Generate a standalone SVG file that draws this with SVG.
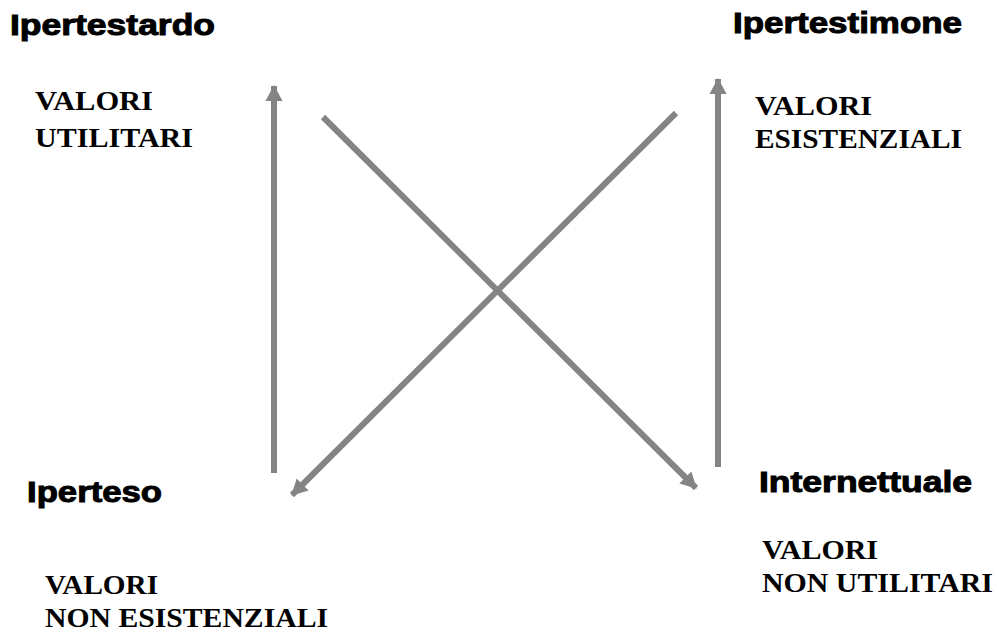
<svg xmlns="http://www.w3.org/2000/svg" width="997" height="632" viewBox="0 0 997 632">
<style>
.title{font-family:"Liberation Sans",Arial,sans-serif;font-weight:900;font-size:30px;fill:#000;stroke:#000;stroke-width:1px}
.val{font-family:"Liberation Serif","Times New Roman",serif;font-weight:bold;font-size:27px;fill:#000}
.arr{stroke:#848484;stroke-width:6;fill:none;marker-end:url(#ah)}
</style>
<defs>
<marker id="ah" markerUnits="userSpaceOnUse" markerWidth="20" markerHeight="20" viewBox="0 0 20 20" refX="16" refY="10" orient="auto">
<path d="M1,1.5 L17,10 L1,18.5 Z" fill="#848484"/>
</marker>
</defs>
<rect width="997" height="632" fill="#fff"/>
<g id="connectors">
<line class="arr" x1="274" y1="473" x2="274" y2="86"/>
<line class="arr" x1="718" y1="467" x2="718" y2="79"/>
<line class="arr" x1="323" y1="117" x2="696" y2="488"/>
<line class="arr" x1="676" y1="113" x2="292" y2="495"/>
</g>
<g id="ipertestardo">
<text class="title" x="10" y="35" textLength="205" lengthAdjust="spacingAndGlyphs">Ipertestardo</text>
<text class="val" x="35" y="110" textLength="118" lengthAdjust="spacingAndGlyphs">VALORI</text>
<text class="val" x="35" y="147" textLength="158" lengthAdjust="spacingAndGlyphs">UTILITARI</text>
</g>
<g id="ipertestimone">
<text class="title" x="733" y="33" textLength="229" lengthAdjust="spacingAndGlyphs">Ipertestimone</text>
<text class="val" x="755" y="115" textLength="117" lengthAdjust="spacingAndGlyphs">VALORI</text>
<text class="val" x="755" y="148" textLength="207" lengthAdjust="spacingAndGlyphs">ESISTENZIALI</text>
</g>
<g id="iperteso">
<text class="title" x="27" y="502" textLength="135" lengthAdjust="spacingAndGlyphs">Iperteso</text>
<text class="val" x="45" y="594" textLength="113" lengthAdjust="spacingAndGlyphs">VALORI</text>
<text class="val" x="45" y="627" textLength="283" lengthAdjust="spacingAndGlyphs">NON ESISTENZIALI</text>
</g>
<g id="internettuale">
<text class="title" x="759" y="492" textLength="213" lengthAdjust="spacingAndGlyphs">Internettuale</text>
<text class="val" x="762" y="559" textLength="116" lengthAdjust="spacingAndGlyphs">VALORI</text>
<text class="val" x="762" y="592" textLength="231" lengthAdjust="spacingAndGlyphs">NON UTILITARI</text>
</g>
</svg>
